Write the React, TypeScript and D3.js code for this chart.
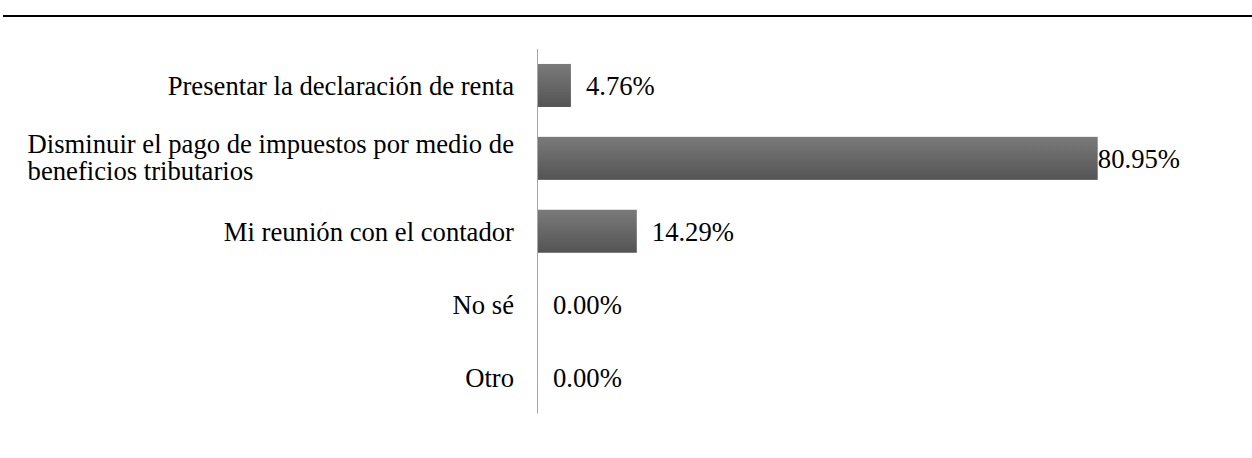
import React, { useEffect, useRef } from 'react';
import * as d3 from 'd3';

// categorias (lineas de cada etiqueta) y porcentajes
const categories = [
  ['Presentar la declaración de renta'],
  ['Disminuir el pago de impuestos por medio de', 'beneficios tributarios'],
  ['Mi reunión con el contador'],
  ['No sé'],
  ['Otro'],
];
const values = [4.76, 80.95, 14.29, 0.0, 0.0];
const valueLabels = ['4.76%', '80.95%', '14.29%', '0.00%', '0.00%'];

const W = 1252;
const H = 458;
const FONT = "'Liberation Serif', 'Times New Roman', Times, serif";
const FS = '26.67px';

const App = () => {
  const svgRef = useRef(null);

  useEffect(() => {
    const svg = d3.select(svgRef.current);
    svg.selectAll('*').remove();

    const axisX = 538;
    const labelMaxRight = 1180;

    const x = d3.scaleLinear().domain([0, 100]).range([axisX, axisX + 691.4]);
    const y = d3.scaleBand()
      .domain(categories.map((_, i) => String(i)))
      .range([49, 413.5])
      .paddingInner(0.41)
      .paddingOuter(0.205);

    const defs = svg.append('defs');
    const grad = defs.append('linearGradient')
      .attr('id', 'barGrad')
      .attr('x1', 0).attr('y1', 0).attr('x2', 0).attr('y2', 1);
    grad.append('stop').attr('offset', '0%').attr('stop-color', '#7a7a7a');
    grad.append('stop').attr('offset', '100%').attr('stop-color', '#545454');

    // linea superior
    svg.append('line')
      .attr('x1', 3).attr('x2', W)
      .attr('y1', 16).attr('y2', 16)
      .attr('stroke', '#000').attr('stroke-width', 2);

    svg.selectAll('.bar')
      .data(values)
      .enter().append('rect')
      .attr('class', 'bar')
      .attr('x', axisX)
      .attr('y', (d, i) => y(String(i)))
      .attr('width', d => x(d) - axisX)
      .attr('height', y.bandwidth())
      .attr('fill', 'url(#barGrad)');

    // eje vertical
    svg.append('line')
      .attr('x1', axisX - 0.5).attr('x2', axisX - 0.5)
      .attr('y1', 49).attr('y2', 413.5)
      .attr('stroke', '#a6a6a6').attr('stroke-width', 1);

    // etiquetas de valores
    valueLabels.forEach((lab, i) => {
      const t = svg.append('text')
        .attr('y', y(String(i)) + y.bandwidth() / 2)
        .attr('dy', '0.37em')
        .style('font-family', FONT)
        .style('font-size', FS)
        .attr('fill', '#000')
        .text(lab);
      const w = t.node().getComputedTextLength();
      const lx = Math.min(x(values[i]) + 15, labelMaxRight - w);
      t.attr('x', lx);
    });

    // etiquetas de categorias
    categories.forEach((lines, i) => {
      const cy = y(String(i)) + y.bandwidth() / 2;
      const lh = 27.5;
      const g = svg.append('text')
        .style('font-family', FONT)
        .style('font-size', FS)
        .attr('fill', '#000');
      const spans = lines.map((ln, k) => g.append('tspan')
        .attr('y', cy + (k - (lines.length - 1) / 2) * lh)
        .attr('dy', lines.length > 1 ? '0.3em' : '0.37em')
        .text(ln));
      const maxW = d3.max(spans, s => s.node().getComputedTextLength());
      spans.forEach(s => s.attr('x', 514 - maxW));
    });
  }, []);

  return (
    <svg ref={svgRef} width={W} height={H} style={{ position: 'absolute', left: 0, top: 0 }}></svg>
  );
};

export default App;
